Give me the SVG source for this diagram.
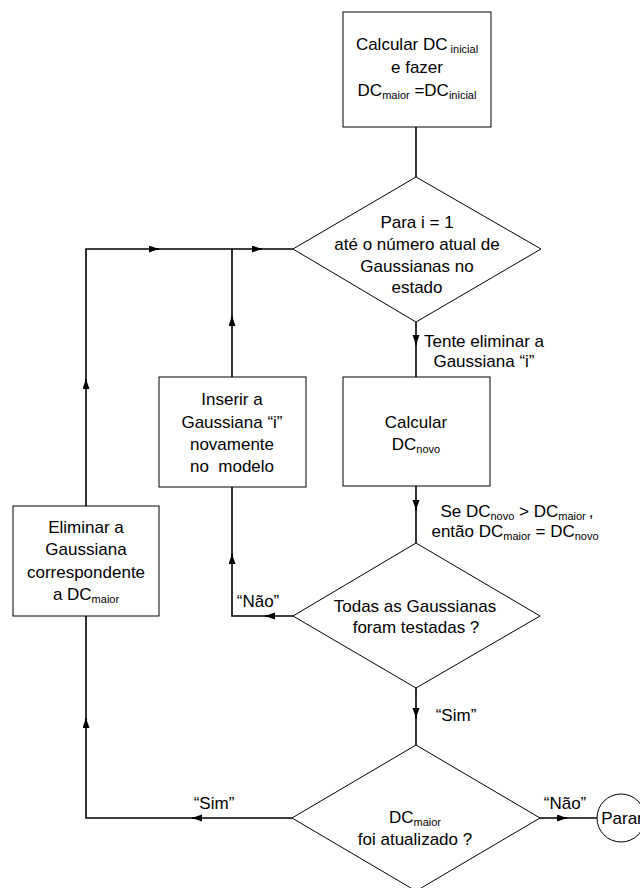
<svg xmlns="http://www.w3.org/2000/svg" width="640" height="888" viewBox="0 0 640 888">
<style>
.n{fill:#fff;stroke:#000;stroke-width:1}
.t{font-family:"Liberation Sans",Arial,sans-serif;font-size:17px;fill:#000;text-anchor:middle}
.s{font-size:11px}
.c{fill:none;stroke:#000;stroke-width:1.6}
.a{fill:none;stroke:#000;stroke-width:1.6;marker-end:url(#ah)}
</style>
<defs>
<marker id="ah" markerUnits="userSpaceOnUse" markerWidth="10" markerHeight="8" refX="10" refY="3.5" orient="auto"><path d="M0,0 L10,3.5 L0,7 z" fill="#000"/></marker>
</defs>
<rect width="640" height="888" fill="#fff"/>
<g id="connectors">
<path class="c" d="M416 127 V177"/>
<path class="c" d="M416 322 V377"/>
<path class="a" d="M416 336 V345"/>
<path class="c" d="M416 486 V543"/>
<path class="a" d="M416 500 V510"/>
<path class="c" d="M416 688 V745"/>
<path class="a" d="M416 708 V718"/>
<path class="c" d="M293 616 H232 V487"/>
<path class="a" d="M275 616 H265"/>
<path class="a" d="M232 564 V554"/>
<path class="c" d="M232 377 V249"/>
<path class="a" d="M232 326 V316"/>
<path class="c" d="M86 506 V249 H293"/>
<path class="a" d="M86 389 V379"/>
<path class="a" d="M149 249 H159"/>
<path class="a" d="M252 249 H262"/>
<path class="c" d="M292 818 H86 V616"/>
<path class="a" d="M202 818 H192"/>
<path class="a" d="M86 728 V718"/>
<path class="c" d="M540 818 H597"/>
<path class="a" d="M557 818 H567"/>
<text class="t" x="484" y="347">Tente eliminar a</text>
<text class="t" x="484" y="367">Gaussiana “i”</text>
<text class="t" x="517" y="517">Se DC<tspan class="s" dy="3">novo</tspan><tspan dy="-3"> &gt; DC</tspan><tspan class="s" dy="3">maior </tspan><tspan dy="-3">,</tspan></text>
<text class="t" x="515" y="537">então DC<tspan class="s" dy="3">maior</tspan><tspan dy="-3"> = DC</tspan><tspan class="s" dy="3">novo</tspan></text>
<text class="t" x="258" y="607">“Não”</text>
<text class="t" x="456" y="721">“Sim”</text>
<text class="t" x="214" y="809">“Sim”</text>
<text class="t" x="565" y="809">“Não”</text>
</g>
<g id="n-inicial">
<rect class="n" x="343" y="12" width="148" height="115"/>
<text class="t" x="417" y="50">Calcular DC<tspan class="s" dy="3"> inicial</tspan></text>
<text class="t" x="417" y="73">e fazer</text>
<text class="t" x="417" y="96">DC<tspan class="s" dy="3">maior</tspan><tspan dy="-3"> =DC</tspan><tspan class="s" dy="3">inicial</tspan></text>
</g>
<g id="n-para">
<polygon class="n" points="416,177 541,249 416,322 293,249"/>
<text class="t" x="417" y="228">Para i = 1</text>
<text class="t" x="417" y="250">até o número atual de</text>
<text class="t" x="417" y="272">Gaussianas no</text>
<text class="t" x="417" y="293">estado</text>
</g>
<g id="n-novo">
<rect class="n" x="343" y="377" width="147" height="109"/>
<text class="t" x="416" y="428">Calcular</text>
<text class="t" x="416" y="450">DC<tspan class="s" dy="3">novo</tspan></text>
</g>
<g id="n-todas">
<polygon class="n" points="416,543 540,616 416,688 293,616"/>
<text class="t" x="415" y="612">Todas as Gaussianas</text>
<text class="t" x="416" y="633">foram testadas ?</text>
</g>
<g id="n-atualizado">
<polygon class="n" points="416,745 540,818 416,891 292,818"/>
<text class="t" x="415" y="823">DC<tspan class="s" dy="3">maior</tspan></text>
<text class="t" x="415" y="845">foi atualizado ?</text>
</g>
<g id="n-inserir">
<rect class="n" x="159" y="377" width="147" height="110"/>
<text class="t" x="232" y="405">Inserir a</text>
<text class="t" x="232" y="428">Gaussiana “i”</text>
<text class="t" x="232" y="450">novamente</text>
<text class="t" x="232" y="472">no&#160; modelo</text>
</g>
<g id="n-eliminar">
<rect class="n" x="13" y="506" width="146" height="110"/>
<text class="t" x="86" y="533">Eliminar a</text>
<text class="t" x="86" y="555">Gaussiana</text>
<text class="t" x="86" y="578">correspondente</text>
<text class="t" x="86" y="600">a DC<tspan class="s" dy="3">maior</tspan></text>
</g>
<g id="n-parar">
<ellipse class="n" cx="621" cy="818" rx="24" ry="24"/>
<text class="t" x="622" y="824">Parar</text>
</g>
</svg>
